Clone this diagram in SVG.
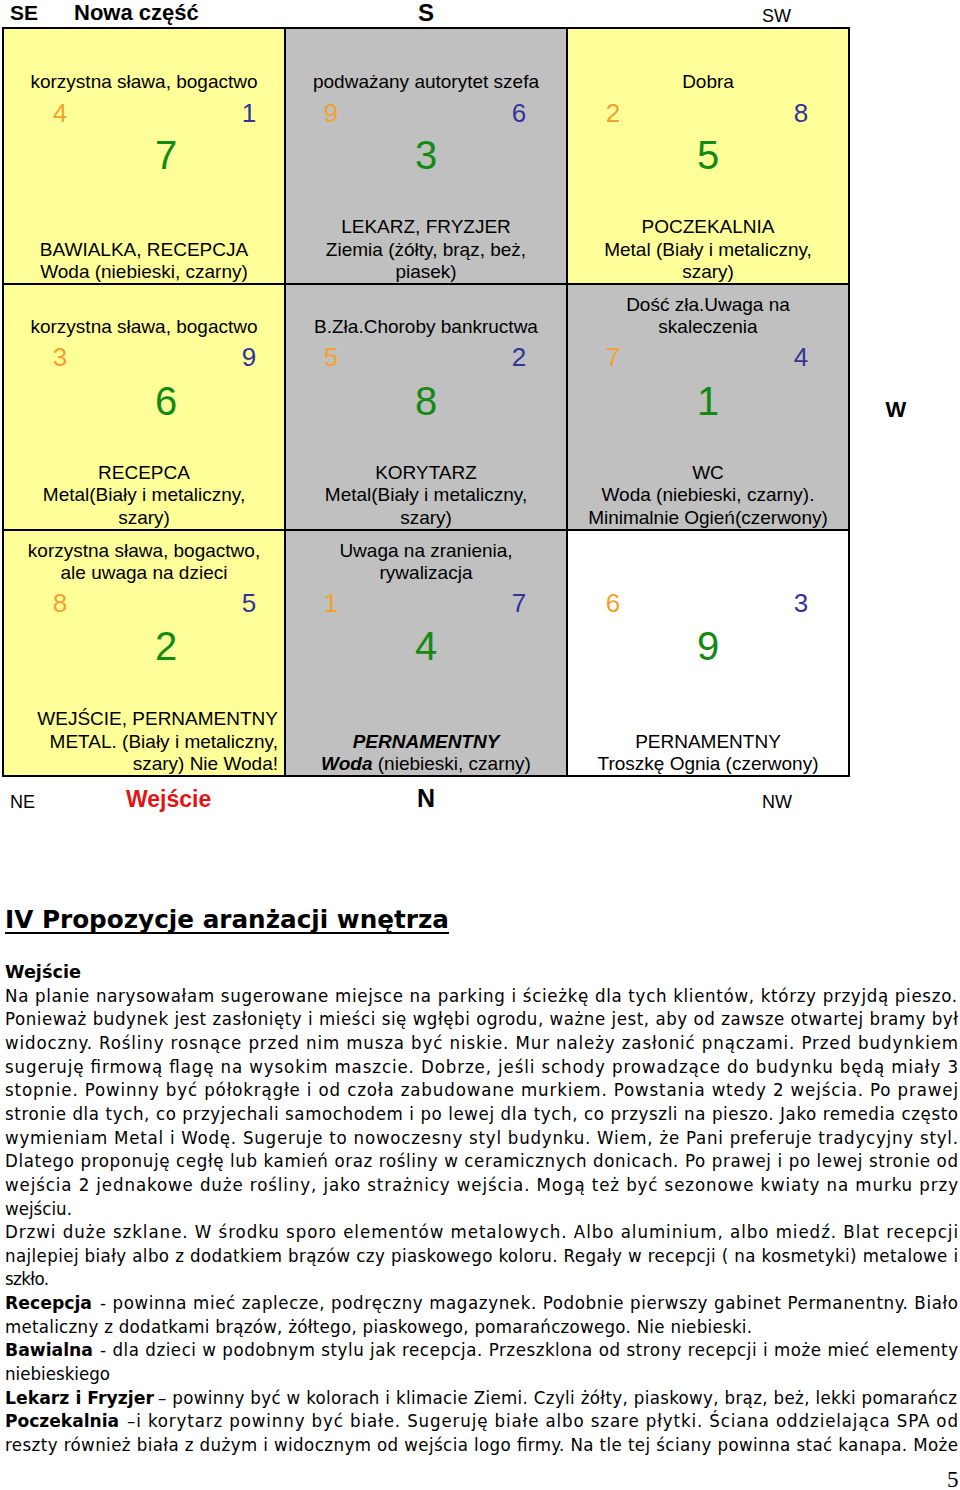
<svg xmlns="http://www.w3.org/2000/svg" width="960" height="1490" viewBox="0 0 960 1490">
<style>
.g{font-family:'Liberation Sans',Arial,sans-serif;fill:#000}
.lab{font-size:19px;text-anchor:middle}
.sd{font-size:26px;text-anchor:middle}
.bd{font-size:40px;text-anchor:middle;fill:#138a13}
.o{fill:#f2a22c}
.n{fill:#333399}
.cell{stroke:#000;stroke-width:2}
.y{fill:#ffff99}
.gr{fill:#c0c0c0}
.w{fill:#fff}
.cmp{font-family:'Liberation Sans',Arial,sans-serif;fill:#000}
.b{font-weight:bold}
.body{font-family:'DejaVu Sans Condensed','DejaVu Sans',Verdana,sans-serif;font-stretch:condensed;font-size:18.5px;fill:#000}
.bb{font-family:'DejaVu Sans',Verdana,sans-serif;font-weight:bold;font-size:18px;fill:#000}
.hd{font-family:'DejaVu Sans',Verdana,sans-serif;font-weight:bold;font-size:25px;fill:#000}
</style>
<rect width="960" height="1490" fill="#fff"/>

<g id="compass">
<text class="cmp b" x="10" y="20" font-size="21">SE</text>
<text class="cmp b" x="74" y="20" font-size="22">Nowa część</text>
<text class="cmp b" x="426" y="21" font-size="24" text-anchor="middle">S</text>
<text class="cmp" x="762" y="22" font-size="18">SW</text>
<text class="cmp b" x="896" y="417" font-size="22" text-anchor="middle">W</text>
<text class="cmp" x="10" y="808" font-size="18">NE</text>
<text class="cmp b" x="126" y="807" font-size="23" style="fill:#e21313">Wejście</text>
<text class="cmp b" x="426" y="807" font-size="25" text-anchor="middle">N</text>
<text class="cmp" x="762" y="808" font-size="18">NW</text>
</g>

<g id="cell-r1c1">
<rect class="cell y" x="3" y="28" width="282" height="256"/>
<text class="g lab" x="144" y="88">korzystna sława, bogactwo</text>
<text class="g sd o" x="60" y="122">4</text>
<text class="g sd n" x="249" y="122">1</text>
<text class="g bd" x="166" y="169">7</text>
<text class="g lab" x="144" y="256">BAWIALKA, RECEPCJA</text>
<text class="g lab" x="144" y="278">Woda (niebieski, czarny)</text>
</g>

<g id="cell-r1c2">
<rect class="cell gr" x="285" y="28" width="282" height="256"/>
<text class="g lab" x="426" y="88">podważany autorytet szefa</text>
<text class="g sd o" x="331" y="122">9</text>
<text class="g sd n" x="519" y="122">6</text>
<text class="g bd" x="426" y="169">3</text>
<text class="g lab" x="426" y="233">LEKARZ, FRYZJER</text>
<text class="g lab" x="426" y="256">Ziemia (żółty, brąz, beż,</text>
<text class="g lab" x="426" y="278">piasek)</text>
</g>

<g id="cell-r1c3">
<rect class="cell y" x="567" y="28" width="282" height="256"/>
<text class="g lab" x="708" y="88">Dobra</text>
<text class="g sd o" x="613" y="122">2</text>
<text class="g sd n" x="801" y="122">8</text>
<text class="g bd" x="708" y="169">5</text>
<text class="g lab" x="708" y="233">POCZEKALNIA</text>
<text class="g lab" x="708" y="256">Metal (Biały i metaliczny,</text>
<text class="g lab" x="708" y="278">szary)</text>
</g>

<g id="cell-r2c1">
<rect class="cell y" x="3" y="284" width="282" height="246"/>
<text class="g lab" x="144" y="333">korzystna sława, bogactwo</text>
<text class="g sd o" x="60" y="366">3</text>
<text class="g sd n" x="249" y="366">9</text>
<text class="g bd" x="166" y="415">6</text>
<text class="g lab" x="144" y="479">RECEPCA</text>
<text class="g lab" x="144" y="501">Metal(Biały i metaliczny,</text>
<text class="g lab" x="144" y="524">szary)</text>
</g>

<g id="cell-r2c2">
<rect class="cell gr" x="285" y="284" width="282" height="246"/>
<text class="g lab" x="426" y="333">B.Zła.Choroby bankructwa</text>
<text class="g sd o" x="331" y="366">5</text>
<text class="g sd n" x="519" y="366">2</text>
<text class="g bd" x="426" y="415">8</text>
<text class="g lab" x="426" y="479">KORYTARZ</text>
<text class="g lab" x="426" y="501">Metal(Biały i metaliczny,</text>
<text class="g lab" x="426" y="524">szary)</text>
</g>

<g id="cell-r2c3">
<rect class="cell gr" x="567" y="284" width="282" height="246"/>
<text class="g lab" x="708" y="311">Dość zła.Uwaga na</text>
<text class="g lab" x="708" y="333">skaleczenia</text>
<text class="g sd o" x="613" y="366">7</text>
<text class="g sd n" x="801" y="366">4</text>
<text class="g bd" x="708" y="415">1</text>
<text class="g lab" x="708" y="479">WC</text>
<text class="g lab" x="708" y="501">Woda (niebieski, czarny).</text>
<text class="g lab" x="708" y="524">Minimalnie Ogień(czerwony)</text>
</g>

<g id="cell-r3c1">
<rect class="cell y" x="3" y="530" width="282" height="246"/>
<text class="g lab" x="144" y="557">korzystna sława, bogactwo,</text>
<text class="g lab" x="144" y="579">ale uwaga na dzieci</text>
<text class="g sd o" x="60" y="612">8</text>
<text class="g sd n" x="249" y="612">5</text>
<text class="g bd" x="166" y="660">2</text>
<text class="g" font-size="19" text-anchor="end" x="278" y="725">WEJŚCIE, PERNAMENTNY</text>
<text class="g" font-size="19" text-anchor="end" x="278" y="748">METAL. (Biały i metaliczny,</text>
<text class="g" font-size="19" text-anchor="end" x="278" y="770">szary) Nie Woda!</text>
</g>

<g id="cell-r3c2">
<rect class="cell gr" x="285" y="530" width="282" height="246"/>
<text class="g lab" x="426" y="557">Uwaga na zranienia,</text>
<text class="g lab" x="426" y="579">rywalizacja</text>
<text class="g sd o" x="331" y="612">1</text>
<text class="g sd n" x="519" y="612">7</text>
<text class="g bd" x="426" y="660">4</text>
<text class="g lab b" x="426" y="748" font-style="italic">PERNAMENTNY</text>
<text class="g lab" x="426" y="770"><tspan font-weight="bold" font-style="italic">Woda</tspan> (niebieski, czarny)</text>
</g>

<g id="cell-r3c3">
<rect class="cell w" x="567" y="530" width="282" height="246"/>
<text class="g sd o" x="613" y="612">6</text>
<text class="g sd n" x="801" y="612">3</text>
<text class="g bd" x="708" y="660">9</text>
<text class="g lab" x="708" y="748">PERNAMENTNY</text>
<text class="g lab" x="708" y="770">Troszkę Ognia (czerwony)</text>
</g>

<g id="connectors"/>

<g id="section">
<text class="hd" x="5" y="928" textLength="444" lengthAdjust="spacingAndGlyphs">IV Propozycje aranżacji wnętrza</text>
<line x1="5" y1="933" x2="449" y2="933" stroke="#000" stroke-width="2"/>
<text class="bb" x="5" y="978" textLength="76" lengthAdjust="spacingAndGlyphs">Wejście</text>
<text class="body" x="5" y="1002" textLength="952" lengthAdjust="spacing">Na planie narysowałam sugerowane miejsce na parking i ścieżkę dla tych klientów, którzy przyjdą pieszo.</text>
<text class="body" x="5" y="1025" textLength="953" lengthAdjust="spacing">Ponieważ budynek jest zasłonięty i mieści się wgłębi ogrodu, ważne jest, aby od zawsze otwartej bramy był</text>
<text class="body" x="5" y="1049" textLength="953" lengthAdjust="spacing">widoczny. Rośliny rosnące przed nim musza być niskie. Mur należy zasłonić pnączami. Przed budynkiem</text>
<text class="body" x="5" y="1073" textLength="953" lengthAdjust="spacing">sugeruję firmową flagę na wysokim maszcie. Dobrze, jeśli schody prowadzące do budynku będą miały 3</text>
<text class="body" x="5" y="1096" textLength="953" lengthAdjust="spacing">stopnie. Powinny być półokrągłe i od czoła zabudowane murkiem. Powstania wtedy 2 wejścia. Po prawej</text>
<text class="body" x="5" y="1120" textLength="953" lengthAdjust="spacing">stronie dla tych, co przyjechali samochodem i po lewej dla tych, co przyszli na pieszo. Jako remedia często</text>
<text class="body" x="5" y="1144" textLength="953" lengthAdjust="spacing">wymieniam Metal i Wodę. Sugeruje to nowoczesny styl budynku. Wiem, że Pani preferuje tradycyjny styl.</text>
<text class="body" x="5" y="1167" textLength="953" lengthAdjust="spacing">Dlatego proponuję cegłę lub kamień oraz rośliny w ceramicznych donicach. Po prawej i po lewej stronie od</text>
<text class="body" x="5" y="1191" textLength="953" lengthAdjust="spacing">wejścia 2 jednakowe duże rośliny, jako strażnicy wejścia. Mogą też być sezonowe kwiaty na murku przy</text>
<text class="body" x="5" y="1215" textLength="67" lengthAdjust="spacing">wejściu.</text>
<text class="body" x="5" y="1238" textLength="953" lengthAdjust="spacing">Drzwi duże szklane. W środku sporo elementów metalowych. Albo aluminium, albo miedź. Blat recepcji</text>
<text class="body" x="5" y="1262" textLength="953" lengthAdjust="spacing">najlepiej biały albo z dodatkiem brązów czy piaskowego koloru. Regały w recepcji ( na kosmetyki) metalowe i</text>
<text class="body" x="5" y="1285" textLength="44" lengthAdjust="spacing">szkło.</text>
<text class="bb" x="5" y="1309" textLength="87" lengthAdjust="spacingAndGlyphs">Recepcja</text>
<text class="body" x="100" y="1309" textLength="858" lengthAdjust="spacing">- powinna mieć zaplecze, podręczny magazynek. Podobnie pierwszy gabinet Permanentny. Biało</text>
<text class="body" x="5" y="1333" textLength="747" lengthAdjust="spacing">metaliczny z dodatkami brązów, żółtego, piaskowego, pomarańczowego. Nie niebieski.</text>
<text class="bb" x="5" y="1356" textLength="88" lengthAdjust="spacingAndGlyphs">Bawialna</text>
<text class="body" x="100" y="1356" textLength="858" lengthAdjust="spacing">- dla dzieci w podobnym stylu jak recepcja. Przeszklona od strony recepcji i może mieć elementy</text>
<text class="body" x="5" y="1380" textLength="105" lengthAdjust="spacing">niebieskiego</text>
<text class="bb" x="5" y="1404" textLength="149" lengthAdjust="spacingAndGlyphs">Lekarz i Fryzjer</text>
<text class="body" x="158" y="1404" textLength="799" lengthAdjust="spacing">– powinny być w kolorach i klimacie Ziemi. Czyli żółty, piaskowy, brąz, beż, lekki pomarańcz</text>
<text class="bb" x="5" y="1427" textLength="114" lengthAdjust="spacingAndGlyphs">Poczekalnia</text>
<text class="body" x="127" y="1427" textLength="831" lengthAdjust="spacing">–i korytarz powinny być białe. Sugeruję białe albo szare płytki. Ściana oddzielająca SPA od</text>
<text class="body" x="5" y="1451" textLength="953" lengthAdjust="spacing">reszty również biała z dużym i widocznym od wejścia logo firmy. Na tle tej ściany powinna stać kanapa. Może</text>
<text x="947" y="1487" font-family="'Liberation Serif','Times New Roman',serif" font-size="23" fill="#000">5</text>
</g>
</svg>
